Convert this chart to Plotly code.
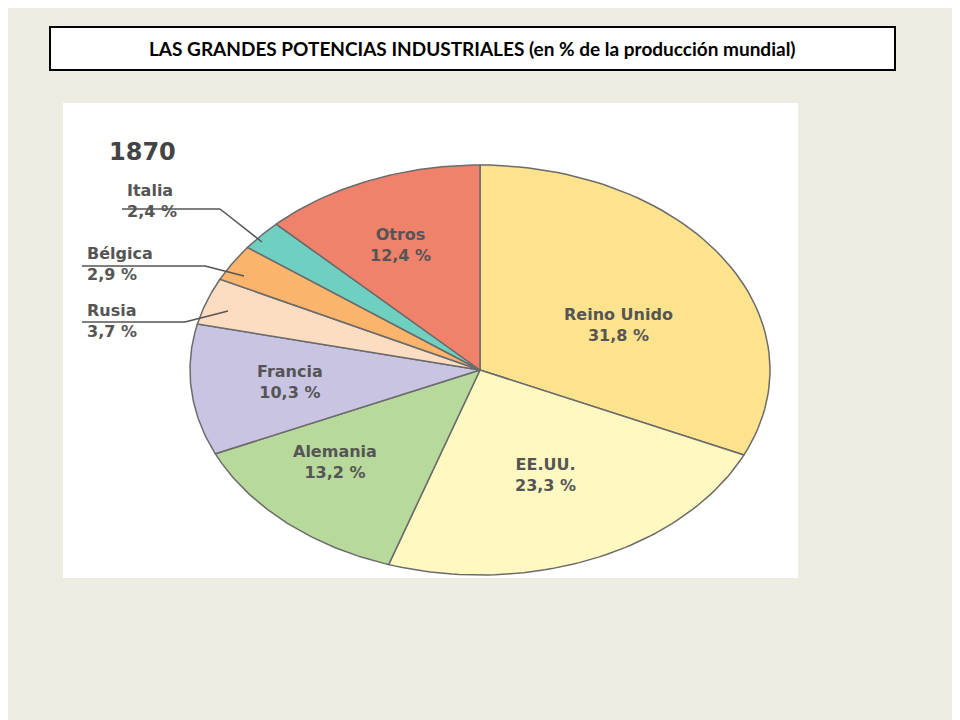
import numpy as np
import plotly.graph_objects as go

paises = ["Reino Unido", "EE.UU.", "Alemania", "Francia", "Rusia", "Bélgica", "Italia", "Otros"]
valores = [31.8, 23.3, 13.2, 10.3, 3.7, 2.9, 2.4, 12.4]
colores = ["#FDE38E", "#FFF8C0", "#B7D99C", "#C9C4E2", "#FDDDC2", "#FBB46C", "#6FCFC1", "#F0816A"]
etiquetas = ["31,8 %", "23,3 %", "13,2 %", "10,3 %", "3,7 %", "2,9 %", "2,4 %", "12,4 %"]

OFF = 8  # page body margin
# pixel frame of the white panel (x 63..798, y 103..578) in screen pixels
X0, Y0, W, H = 63 - OFF, 103 - OFF, 735, 475
CX, CY, RX, RY = 480 - OFF, 370 - OFF, 290, 205

def px(x):
    return x - OFF - X0

def py(y):
    return Y0 + H - (y - OFF)

def cpx(x):
    return x - X0

def cpy(y):
    return Y0 + H - y

fig = go.Figure()
ang = 90.0
for nombre, v, col in zip(paises, valores, colores):
    a1 = ang - v * 3.6
    t = np.radians(np.linspace(ang, a1, 60))
    xs = np.concatenate([[cpx(CX)], cpx(CX) + RX * np.cos(t), [cpx(CX)]])
    ys = np.concatenate([[cpy(CY)], cpy(CY) + RY * np.sin(t), [cpy(CY)]])
    fig.add_trace(go.Scatter(x=xs, y=ys, fill="toself", fillcolor=col, mode="lines",
                             line=dict(color="#6b6b6b", width=1.5), name=nombre, hoverinfo="name"))
    ang = a1

pos = {"Reino Unido": (618, 325), "EE.UU.": (545, 475), "Alemania": (335, 462),
       "Francia": (290, 382), "Otros": (400, 245),
       "Italia": (125, 201), "Bélgica": (85, 264), "Rusia": (85, 321)}
exteriores = {"Italia", "Bélgica", "Rusia"}
for nombre, et in zip(paises, etiquetas):
    x, y = pos[nombre]
    fig.add_annotation(x=px(x), y=py(y), text=f"<b>{nombre}<br>{et}</b>", showarrow=False,
                       xanchor="left" if nombre in exteriores else "center",
                       align="left" if nombre in exteriores else "center",
                       font=dict(family="DejaVu Sans", size=16, color="#555555"))

# leader lines
for (a, b, c, d) in [(122, 209, 220, 209), (220, 209, 262, 242),
                     (82, 266, 205, 266), (205, 266, 244, 276),
                     (82, 322, 185, 322), (185, 322, 228, 311)]:
    fig.add_shape(type="line", x0=px(a), y0=py(b), x1=px(c), y1=py(d), xref="x", yref="y",
                  line=dict(color="#555555", width=1.5))

fig.add_annotation(x=px(107), y=py(152), text="<b>1870</b>", showarrow=False, xanchor="left",
                   font=dict(family="DejaVu Sans", size=24, color="#444444"))

fig.add_annotation(x=(472 - OFF) / 960, y=1 - (48 - OFF) / 720, xref="paper", yref="paper",
                   xanchor="center", yanchor="middle",
                   text="<b>LAS GRANDES POTENCIAS INDUSTRIALES (en % de la producción mundial)</b>",
                   showarrow=False, font=dict(family="Lato", size=19, color="black"))
fig.add_shape(type="rect", xref="paper", yref="paper", x0=(50 - OFF) / 960, x1=(895 - OFF) / 960,
              y0=1 - (70 - OFF) / 720, y1=1 - (27 - OFF) / 720, line=dict(color="black", width=2),
              fillcolor="white", layer="below")

fig.update_xaxes(domain=[X0 / 960, (X0 + W) / 960], range=[0, W], visible=False)
fig.update_yaxes(domain=[1 - (Y0 + H) / 720, 1 - Y0 / 720], range=[0, H], visible=False)
fig.update_layout(width=960, height=720, margin=dict(l=0, r=0, t=0, b=0),
                  paper_bgcolor="#EEEBE1", plot_bgcolor="white", showlegend=False)
fig.write_html("out.html")
